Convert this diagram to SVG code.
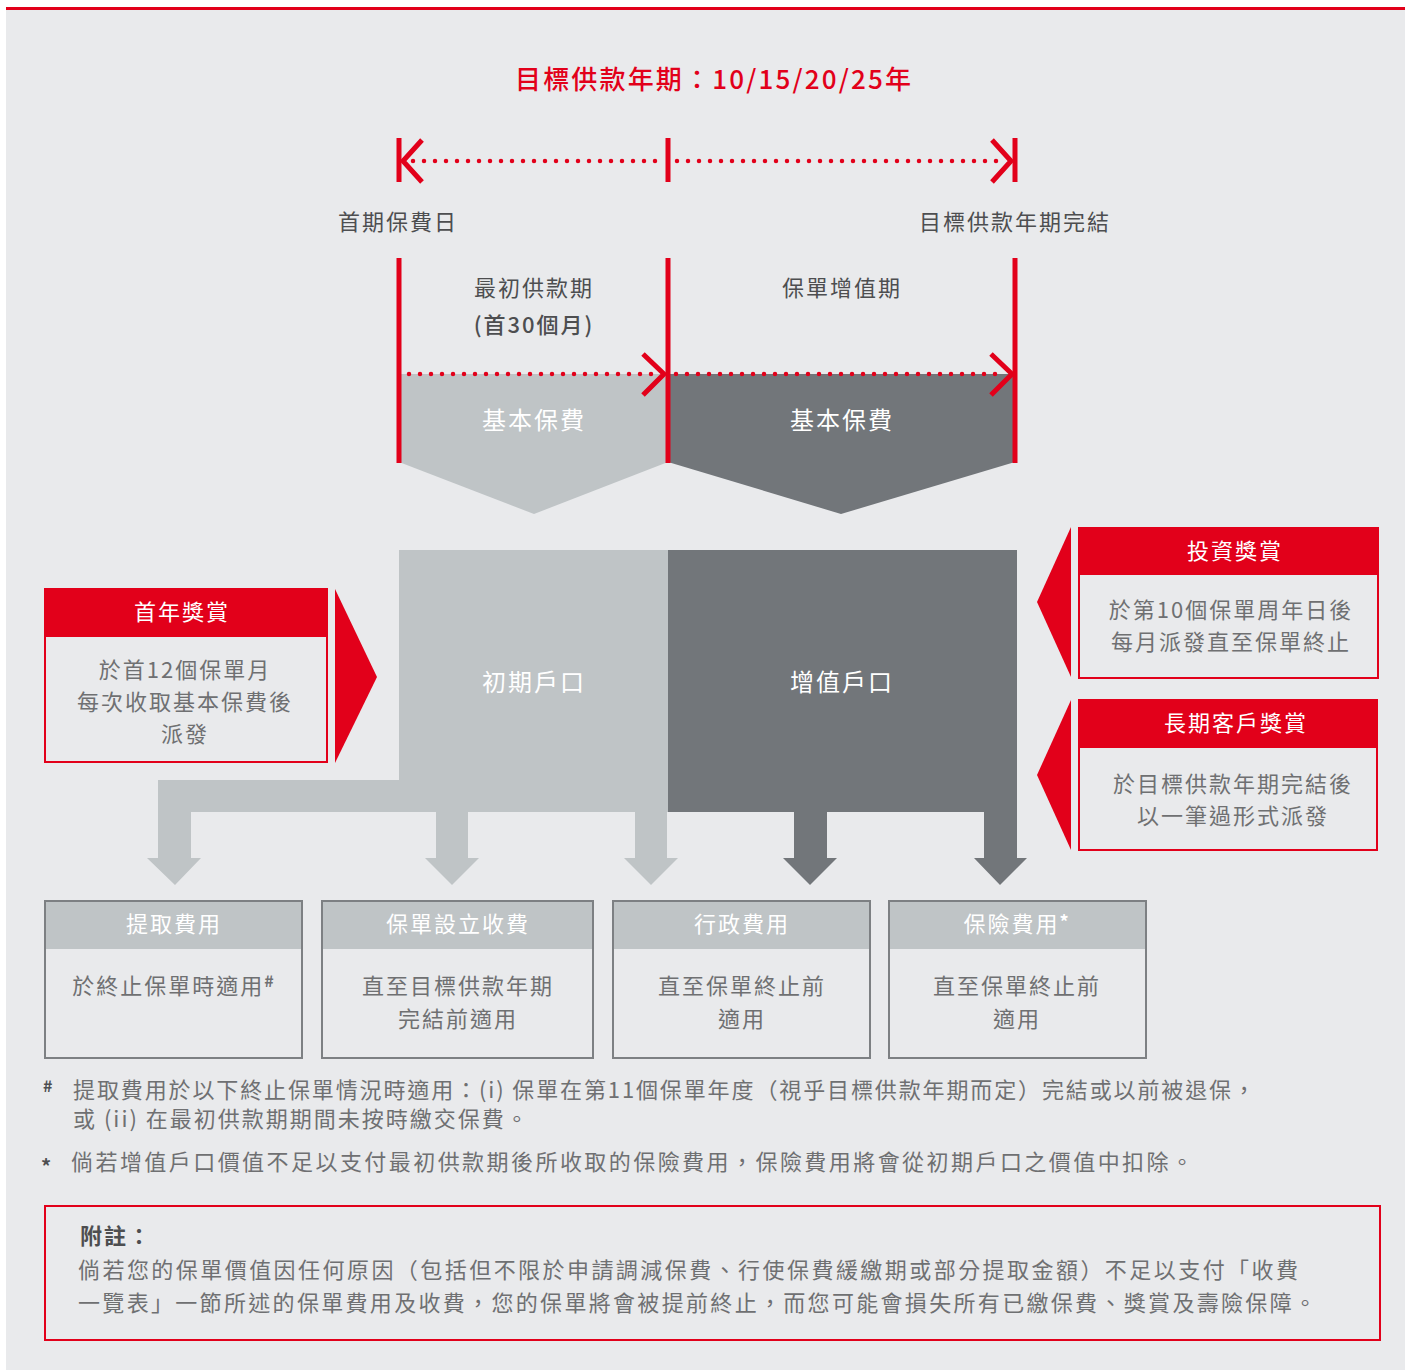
<svg xmlns="http://www.w3.org/2000/svg" width="1410" height="1370" viewBox="0 0 1410 1370">
<style>
text{font-family:"Noto Sans CJK TC","Noto Sans CJK SC",sans-serif;}
.t{font-size:22px;letter-spacing:2px;fill:#6f7072;}
.d{font-size:22px;letter-spacing:2px;fill:#4d4e50;}
.w{font-size:22px;letter-spacing:2px;fill:#ffffff;}
.wb{font-size:24px;letter-spacing:2px;fill:#ffffff;}
.m{text-anchor:middle;}
.red{stroke:#e2001a;fill:none;}
.dots{stroke:#e2001a;stroke-width:4.5;stroke-linecap:round;stroke-dasharray:0 11;fill:none;}
.rb{fill:#e9eaec;stroke:#e2001a;stroke-width:2;}
.gb{fill:#e9eaec;stroke:#7d8083;stroke-width:2;}
.lg{fill:#bfc4c6;}
.dg{fill:#72767a;}
</style>
<rect x="0" y="0" width="1410" height="1370" fill="#ffffff"/>
<rect x="6" y="7" width="1399" height="1363" fill="#e9eaec"/>
<rect x="6" y="7" width="1399" height="3" fill="#e2001a"/>

<g id="title">
<text x="714" y="89" class="m" font-size="26" font-weight="500" letter-spacing="2" fill="#e2001a" textLength="398" lengthAdjust="spacing">目標供款年期：10/15/20/25年</text>
</g>

<g id="timeline-labels">
<text x="398" y="230" class="d m">首期保費日</text>
<text x="1015" y="230" class="d m">目標供款年期完結</text>
<text x="534" y="296" class="d m">最初供款期</text>
<text x="534" y="333" class="d m" font-weight="500">(首30個月)</text>
<text x="842" y="296" class="d m">保單增值期</text>
</g>

<g id="premium-initial">
<polygon class="lg" points="399,374 668,374 668,462 534,514 399,462"/>
<text x="534" y="429" class="wb m">基本保費</text>
</g>
<g id="premium-growth">
<polygon class="dg" points="668,374 1015,374 1015,462 841,514 668,462"/>
<text x="842" y="429" class="wb m">基本保費</text>
</g>

<g id="initial-account">
<polygon class="lg" points="399,550 668,550 668,812 158,812 158,780 399,780"/>
<text x="534" y="691" class="wb m">初期戶口</text>
</g>
<g id="growth-account">
<rect class="dg" x="668" y="550" width="349" height="262"/>
<text x="842" y="691" class="wb m">增值戶口</text>
</g>

<g id="connectors">
<line class="red" stroke-width="5" x1="399" y1="138" x2="399" y2="182"/>
<line class="red" stroke-width="5" x1="668" y1="138" x2="668" y2="182"/>
<line class="red" stroke-width="5" x1="1015" y1="138" x2="1015" y2="182"/>
<polyline class="red" stroke-width="5" points="422,140 403,161 422,182"/>
<polyline class="red" stroke-width="5" points="992,140 1011,161 992,182"/>
<line class="dots" x1="413" y1="161" x2="660" y2="161"/>
<line class="dots" x1="677" y1="161" x2="1002" y2="161"/>
<line class="red" stroke-width="5" x1="399" y1="258" x2="399" y2="463"/>
<line class="red" stroke-width="5" x1="668" y1="258" x2="668" y2="463"/>
<line class="red" stroke-width="5" x1="1015" y1="258" x2="1015" y2="463"/>
<line class="dots" x1="409" y1="374" x2="656" y2="374"/>
<line class="dots" x1="676" y1="374" x2="1004" y2="374"/>
<polyline class="red" stroke-width="5" points="643,354 664,374 643,395"/>
<polyline class="red" stroke-width="5" points="991,354 1012,374 991,395"/>
<polygon class="lg" points="158,812 191,812 191,858 201,858 175,885 147,858 158,858"/>
<polygon class="lg" points="436,812 468,812 468,858 479,858 452,885 425,858 436,858"/>
<polygon class="lg" points="635,812 667,812 667,858 678,858 651,885 624,858 635,858"/>
<polygon class="dg" points="794,812 827,812 827,858 837,858 810,885 783,858 794,858"/>
<polygon class="dg" points="984,812 1017,812 1017,858 1027,858 1000,885 974,858 984,858"/>
<polygon fill="#e2001a" points="335,589 377,677 335,763"/>
<polygon fill="#e2001a" points="1071,527 1037,602 1071,677"/>
<polygon fill="#e2001a" points="1071,700 1037,775 1071,850"/>
</g>

<g id="first-year-bonus">
<rect class="rb" x="45" y="589" width="282" height="173"/>
<rect x="44" y="588" width="284" height="49" fill="#e2001a"/>
<text x="182" y="620" class="w m">首年獎賞</text>
<text x="185" y="678" class="t m">於首12個保單月</text>
<text x="185" y="710" class="t m">每次收取基本保費後</text>
<text x="185" y="742" class="t m">派發</text>
</g>

<g id="investment-bonus">
<rect class="rb" x="1079" y="528" width="299" height="150"/>
<rect x="1078" y="527" width="301" height="48" fill="#e2001a"/>
<text x="1235" y="559" class="w m">投資獎賞</text>
<text x="1231" y="618" class="t m">於第10個保單周年日後</text>
<text x="1231" y="650" class="t m">每月派發直至保單終止</text>
</g>

<g id="long-term-bonus">
<rect class="rb" x="1079" y="700" width="298" height="150"/>
<rect x="1078" y="699" width="300" height="49" fill="#e2001a"/>
<text x="1236" y="731" class="w m">長期客戶獎賞</text>
<text x="1233" y="792" class="t m">於目標供款年期完結後</text>
<text x="1233" y="824" class="t m">以一筆過形式派發</text>
</g>

<g id="withdrawal-fee">
<rect class="gb" x="45" y="901" width="257" height="157"/>
<rect x="46" y="902" width="255" height="47" class="lg"/>
<text x="174" y="932" class="w m">提取費用</text>
<text x="174" y="994" class="t m">於終止保單時適用<tspan font-size="16" font-weight="bold" dy="-7">#</tspan></text>
</g>

<g id="setup-fee">
<rect class="gb" x="322" y="901" width="271" height="157"/>
<rect x="323" y="902" width="269" height="47" class="lg"/>
<text x="458" y="932" class="w m">保單設立收費</text>
<text x="458" y="994" class="t m">直至目標供款年期</text>
<text x="458" y="1027" class="t m">完結前適用</text>
</g>

<g id="admin-fee">
<rect class="gb" x="613" y="901" width="257" height="157"/>
<rect x="614" y="902" width="255" height="47" class="lg"/>
<text x="742" y="932" class="w m">行政費用</text>
<text x="742" y="994" class="t m">直至保單終止前</text>
<text x="742" y="1027" class="t m">適用</text>
</g>

<g id="insurance-fee">
<rect class="gb" x="889" y="901" width="257" height="157"/>
<rect x="890" y="902" width="255" height="47" class="lg"/>
<text x="1017" y="932" class="w m">保險費用<tspan font-size="18" font-weight="bold" dy="-3">*</tspan></text>
<text x="1017" y="994" class="t m">直至保單終止前</text>
<text x="1017" y="1027" class="t m">適用</text>
</g>

<g id="footnotes">
<text x="43" y="1092" font-size="16" font-weight="bold" fill="#4d4e50">#</text>
<text x="73" y="1098" class="t" textLength="1184" lengthAdjust="spacing">提取費用於以下終止保單情況時適用：(i) 保單在第11個保單年度（視乎目標供款年期而定）完結或以前被退保，</text>
<text x="73" y="1127" class="t">或 (ii) 在最初供款期期間未按時繳交保費。</text>
<text x="41" y="1174" font-size="20" font-weight="bold" fill="#4d4e50">*</text>
<text x="71" y="1170" class="t" textLength="1124" lengthAdjust="spacing">倘若增值戶口價值不足以支付最初供款期後所收取的保險費用，保險費用將會從初期戶口之價值中扣除。</text>
</g>

<g id="note">
<rect x="45" y="1206" width="1335" height="134" fill="none" stroke="#e2001a" stroke-width="2"/>
<text x="80" y="1244" class="d" font-weight="bold">附註：</text>
<text x="78" y="1278" class="t" textLength="1222" lengthAdjust="spacing">倘若您的保單價值因任何原因（包括但不限於申請調減保費、行使保費緩繳期或部分提取金額）不足以支付「收費</text>
<text x="78" y="1311" class="t" textLength="1240" lengthAdjust="spacing">一覽表」一節所述的保單費用及收費，您的保單將會被提前終止，而您可能會損失所有已繳保費、獎賞及壽險保障。</text>
</g>
</svg>
